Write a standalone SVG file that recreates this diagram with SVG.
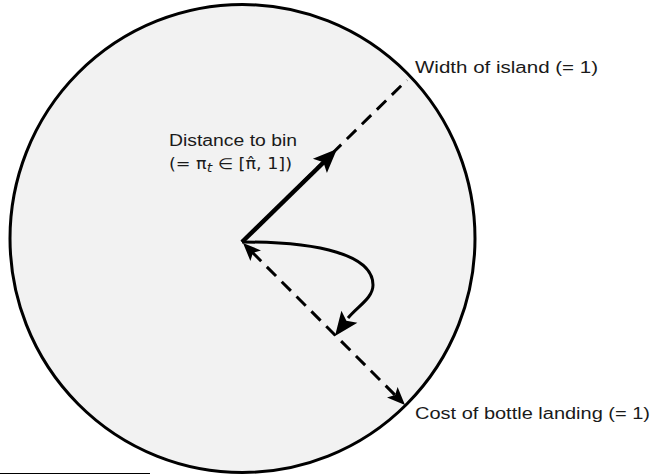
<svg xmlns="http://www.w3.org/2000/svg" width="656" height="474" viewBox="0 0 656 474">
<defs>
<style>
.lbl{font-family:"Liberation Sans","DejaVu Sans",sans-serif;font-size:16px;fill:#1a1a1a}
.math{font-family:"DejaVu Sans","Liberation Sans",sans-serif;font-size:15px;fill:#1a1a1a}
.dash{fill:none;stroke:#000;stroke-width:3;stroke-dasharray:13 8}
.head{fill:#000;stroke:none}
</style>
</defs>
<rect width="656" height="474" fill="#fff"/>
<g id="island">
<ellipse cx="242.5" cy="238.5" rx="232.5" ry="234" fill="#f2f2f2" stroke="#000" stroke-width="3"/>
</g>
<g id="connectors">
<line class="dash" x1="242" y1="242" x2="407" y2="80"/>
<line x1="242" y1="242" x2="324" y2="162" stroke="#000" stroke-width="4.5"/>
<polygon class="head" points="337,149 326.9,172.9 323.4,162.3 312.9,158.7"/>
<line class="dash" x1="252" y1="252" x2="396" y2="396"/>
<polygon class="head" points="405,405 387,397.6 395.1,395.1 397.6,387"/>
<polygon class="head" points="243,243 250.4,261 252.9,252.9 261,250.4"/>
<path d="M242,242 C320,242 373,255 373,285 C373,298 358,306 348,318" fill="none" stroke="#000" stroke-width="3"/>
<polygon class="head" points="335,336 341.4,310.8 346.4,320.8 357.4,322.8"/>
</g>
<g id="label-width">
<text class="lbl" x="415" y="73" textLength="183" lengthAdjust="spacingAndGlyphs">Width of island (= 1)</text>
</g>
<g id="label-distance">
<text class="lbl" x="169" y="146" textLength="128" lengthAdjust="spacingAndGlyphs">Distance to bin</text>
<text class="math" x="169" y="169" textLength="123" lengthAdjust="spacingAndGlyphs">(= π<tspan font-style="italic" font-size="12" dy="3">t</tspan><tspan dy="-3"> ∈ [π̂, 1])</tspan></text>
</g>
<g id="label-cost">
<text class="lbl" x="415" y="419" textLength="235" lengthAdjust="spacingAndGlyphs">Cost of bottle landing (= 1)</text>
</g>
<line x1="0" y1="473.5" x2="150" y2="473.5" stroke="#000" stroke-width="1"/>
</svg>
